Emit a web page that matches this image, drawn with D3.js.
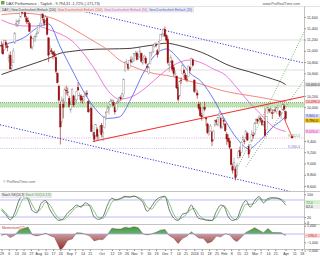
<!DOCTYPE html>
<html><head><meta charset="utf-8">
<script src="https://cdn.jsdelivr.net/npm/d3@7"></script>
<style>
body{margin:0;background:#fff;}
svg{display:block;font-family:"Liberation Sans",Arial,sans-serif;}
</style></head><body>
<div id="chart"></div>
<script>
// DAX daily candles, 29 Jun 2015 .. 1 Apr 2016 (index = trading day)
const opens = [11100,11090,
 11020,11150,11080,10850,10920,10700,10800,11140,11480,11470,11530,11600,11720,11700,11730,11580,11540,11480,11250,11070,11200,11250,11300,
 11330,11430,11480,11640,11560,11530,11580,11230,10990,11000,10980,10950,10880,10600,10370,10050,9750,10050,10100,10300,10270,
 10150,9950,10100,10200,10100,10130,10350,10200,10200,10150,10120,10220,10250,10100,9950,9980,9600,9550,9500,9600,9440,9560,
 9680,9480,9640,9800,9920,9950,10050,10100,10080,10000,9940,10100,10120,10170,10160,10220,10650,10800,10760,10700,10840,10820,
 10830,10940,10960,10880,10900,10950,10780,10870,10870,10720,10600,10770,10950,10980,11080,11100,11000,10980,11180,11280,11300,
 11380,11270,11200,10750,10800,10820,10700,10580,10550,10350,10200,10480,10600,10650,10570,10500,10540,10700,10700,10840,
 10480,10300,10250,10050,10000,9850,9850,10000,9800,9700,9520,9580,9560,9430,9680,9760,9680,9850,9800,9650,
 9760,9700,9520,9450,9400,9250,8950,8950,8900,8800,9100,9230,9200,9420,9400,9450,9530,9300,9250,9400,9500,
 9520,9720,9780,9770,9800,9760,9700,9750,9600,9900,9960,9950,9900,9910,9950,9920,9990,9930,9880,9950,10020,
 9920];
const highs = [11170,11140,
 11200,11190,11120,10950,10990,10860,11050,11330,11560,11540,11580,11730,11750,11802,11760,11620,11600,11520,11290,11230,11260,11300,11360,
 11460,11500,11670,11670,11590,11630,11600,11240,11090,11050,11000,11000,10900,10620,10400,10100,10190,10150,10350,10380,10350,
 10200,10100,10340,10220,10160,10290,10440,10260,10230,10200,10210,10280,10300,10120,10100,10000,9690,9560,9700,9640,9520,9680,
 9720,9600,9840,9930,10030,10020,10150,10150,10130,10040,10090,10140,10190,10210,10250,10510,10820,10850,10780,10840,10900,10880,
 10960,11000,10990,10950,11060,10970,10860,10930,10900,10770,10730,10980,10990,11090,11140,11150,11030,11180,11300,11320,11400,
 11430,11300,11250,10800,10930,10840,10750,10650,10560,10400,10470,10530,10760,10680,10610,10560,10740,10730,10880,10860,
 10490,10400,10300,10100,10080,9900,10000,10100,9830,9720,9590,9700,9580,9600,9780,9790,9830,9930,9830,9830,
 9800,9720,9560,9520,9450,9270,9000,9100,8950,9010,9240,9300,9400,9500,9430,9600,9560,9330,9340,9590,9560,
 9730,9800,9800,9860,9840,9790,9760,9990,9840,10000,9980,10000,9960,9970,10000,10000,10030,9950,9920,10070,10050,
 9940];
const lows = [10950,10930,
 11010,11050,10990,10790,10676,10630,10780,11120,11420,11420,11470,11580,11650,11680,11580,11480,11470,11330,11030,11020,11150,11160,11240,
 11300,11400,11460,11540,11440,11500,11270,10800,10940,10940,10850,10880,10600,10420,10100,9338,9700,9800,10050,10220,10200,
 9990,9900,10080,10000,10050,10090,10290,10130,10080,10060,10080,10190,10180,9900,9930,9560,9480,9380,9470,9420,9400,9540,
 9470,9390,9620,9770,9900,9870,10030,10070,10010,9870,9920,10060,10080,10110,10130,10180,10620,10760,10650,10680,10780,10780,
 10800,10900,10830,10840,10870,10790,10750,10840,10760,10670,10580,10760,10900,10960,11060,11060,10880,10970,11170,11250,11250,
 11250,11160,10760,10620,10780,10630,10550,10520,10320,10100,10180,10410,10580,10520,10470,10440,10530,10610,10690,10730,
 10250,10250,10150,9940,9830,9760,9830,9930,9660,9520,9490,9560,9310,9390,9650,9680,9660,9810,9610,9620,
 9680,9560,9330,9360,9250,8960,8820,8900,8699,8780,9080,9100,9190,9400,9340,9440,9400,9100,9200,9380,9440,
 9500,9700,9700,9740,9730,9670,9660,9480,9590,9880,9900,9880,9790,9880,9910,9880,9960,9820,9790,9940,9940,
 9760];
const closes = [11083,10945,
 11181,11099,11058,10890,10676,10747,10996,11316,11484,11516,11539,11717,11673,11735,11604,11520,11512,11347,11057,11211,11212,11257,11308,
 11444,11456,11637,11585,11490,11604,11293,10924,11015,10985,10940,10915,10636,10432,10124,9648,10128,9998,10315,10298,10259,
 10015,10048,10318,10038,10108,10271,10303,10210,10123,10131,10188,10227,10229,9916,10066,9571,9612,9428,9688,9483,9450,9660,
 9509,9553,9814,9902,9970,9993,10096,10119,10033,9916,10064,10104,10165,10147,10238,10491,10795,10801,10692,10831,10801,10850,
 10950,10951,10845,10887,10988,10815,10832,10907,10782,10708,10713,10971,10959,11085,11119,11092,10934,11169,11284,11293,11382,
 11261,11190,10789,10752,10886,10673,10592,10598,10340,10139,10450,10470,10738,10608,10498,10489,10728,10653,10860,10743,
 10283,10310,10214,9979,9849,9825,9985,9960,9794,9545,9521,9664,9391,9574,9764,9736,9822,9880,9639,9798,
 9758,9581,9434,9393,9286,8979,8879,9017,8752,8967,9206,9135,9377,9463,9388,9574,9416,9167,9331,9513,9495,
 9717,9776,9751,9824,9778,9692,9723,9498,9831,9990,9933,9983,9892,9950,9948,9990,10022,9851,9887,10046,9965,
 9794];

const maIdx = [0,8,16,24,32,40,48,56,64,72,80,88,96,104,112,120,128,136,144,152,160,168,176,184,192,193];
const ma20  = [11103,11156,11245,11405,11476,11068,10659,10269,9960,9800,9825,10150,10588,10915,11032,10865,10606,10446,10145,9763,9442,9262,9417,9640,9810,9840];
const ma50  = [11547,11467,11440,11440,11378,11298,11174,10943,10642,10304,10145,10180,10304,10482,10659,10784,10837,10784,10677,10571,10340,10091,9878,9665,9576,9570];
const ma100 = [11640,11660,11665,11650,11600,11520,11399,11275,11149,11021,10839,10732,10654,10595,10563,10521,10460,10405,10338,10281,10240,10207,10173,10132,10100,10098];
const ma200 = [10579,10652,10721,10791,10865,10957,10991,11016,11028,11032,11036,11044,11076,11107,11135,11098,11041,10972,10876,10768,10689,10631,10566,10501,10418,10400];

// drawn objects (index, value)
const channelTop = [[52,11722],[205.5,10783]];
const channelBottom = [[-1,9687],[196,8504]];
const trendRed = [[62,9391],[205.5,10190]];
const fanSteep = [[159.3,8870],[209.6,11548]];
const fanFlat = [[166,8939],[209.6,10644]];
const projection = [[192,9800],[197.4,9470]];
const zoneBand = [10000,10080];
const levelsGray = [11192,10659,10375];
const levelsDot = [9452,9266];

// stochastic (14,3,3)
const stochIdx = [0,3,6,9,12,15,18,21,24,27,30,33,36,39,42,45,48,51,54,57,60,63,66,69,72,75,78,81,84,87,90,93,96,99,102,105,108,111,114,117,120,123,126,129,131,134,137,140,143,146,149,151,154,157,160,163,166,169,172,175,178,181,184,187,190,193];
const stochK = [45,28,10,35,80,95,82,42,35,68,78,45,22,8,14,35,48,62,55,70,58,20,12,22,62,86,80,86,93,90,94,86,72,40,58,80,90,93,45,16,8,30,35,62,42,15,12,8,8,40,62,58,22,8,15,55,78,55,78,92,70,85,88,86,80,62];
const stochD = [50,35,18,22,55,85,88,62,40,50,72,62,35,15,10,22,40,55,58,62,62,40,18,16,40,72,82,84,90,91,92,89,80,55,48,68,84,91,68,30,12,18,32,48,50,28,14,10,8,22,50,60,40,15,10,35,65,65,68,85,80,80,86,87,83,72];

// momentum (12)
const momIdx = [0,3,6,9,12,15,18,21,24,27,30,33,36,39,40,42,45,48,51,54,57,60,63,66,69,72,75,78,81,84,87,90,93,96,99,102,105,108,111,114,117,120,123,126,129,131,134,137,140,143,146,149,152,155,158,160,163,166,169,172,175,178,181,184,187,190,193];
const momVal = [-170,0,-420,-150,456,636,836,-105,-231,-98,92,-196,-393,-1513,-1937,-1606,-756,-597,147,125,-32,-252,-843,-673,-674,-96,691,614,594,825,712,886,740,37,-123,9,205,452,553,-207,-500,-1145,-523,-263,268,-57,-491,-513,-1108,-892,-243,-346,36,-105,-719,-913,-381,181,452,750,447,149,659,175,166,164,-196];

// x axis labels
const xTickIdx = [0,5,10,15,20,25,30,35,40,46,50,55,60,68,75,80,85,90,95,100,105,111,115,120,125,131,136,141,146,151,156,161,166,172,176,181,186,193,199,204];
const xTickLab = ["29","6","13","20","27","Aug","10","17","24","Sep","7","14","21","Oct","12","19","26","Nov","9","16","23","Dec","7","14","21","2016","11","18","25","Feb","8","15","22","Mar","7","14","21","Apr","11","18"];
const yTicks = [8600,8800,9000,9200,9400,9600,9800,10000,10200,10400,10600,10800,11000,11200,11400,11600];
const stTicks = [0,20,50,80,100];
const moTicks = [1000,0,-1000,-2000];

const W = 320, H = 256, PR = 304;
const main = {top: 6.5, bottom: 191.5};
const st = {top: 192, bottom: 224.5};
const mo = {top: 225, bottom: 249.5};

const svg = d3.select("#chart").append("svg").attr("width", W).attr("height", H);

const x = d3.scaleLinear().domain([-1, 205.5]).range([0, PR]);
const y = d3.scaleLinear().domain([8600, 11600]).range([186, 17]);
const yS = d3.scaleLinear().domain([0, 100]).range([222.7, 194.3]);
const yM = d3.scaleLinear().domain([-1000, 1000]).range([242.3, 225.7]);

const defs = svg.append("defs");
defs.append("clipPath").attr("id", "cmain").append("rect")
  .attr("x", 0).attr("y", main.top).attr("width", PR).attr("height", main.bottom - main.top);
defs.append("clipPath").attr("id", "cmo").append("rect")
  .attr("x", 0).attr("y", mo.top).attr("width", PR).attr("height", mo.bottom - mo.top);
const gUp = defs.append("linearGradient").attr("id", "gup").attr("x1", 0).attr("x2", 0).attr("y1", 0).attr("y2", 1);
gUp.append("stop").attr("offset", 0).attr("stop-color", "#3f9a3f");
gUp.append("stop").attr("offset", 1).attr("stop-color", "#c9e6c9");
const gDn = defs.append("linearGradient").attr("id", "gdn").attr("x1", 0).attr("x2", 0).attr("y1", 0).attr("y2", 1);
gDn.append("stop").attr("offset", 0).attr("stop-color", "#e8caca");
gDn.append("stop").attr("offset", 1).attr("stop-color", "#8e2a2a");

// ---------- main panel ----------
const gm = svg.append("g").attr("clip-path", "url(#cmain)");

gm.append("rect").attr("x", 0).attr("width", PR)
  .attr("y", y(zoneBand[1])).attr("height", y(zoneBand[0]) - y(zoneBand[1]))
  .attr("fill", "#bfe6b3");
gm.append("line").attr("x1", 0).attr("x2", PR).attr("y1", y(zoneBand[1])).attr("y2", y(zoneBand[1]))
  .attr("stroke", "#555").attr("stroke-width", 0.6).attr("stroke-dasharray", "1,1");
gm.append("line").attr("x1", 0).attr("x2", PR).attr("y1", y(zoneBand[0])).attr("y2", y(zoneBand[0]))
  .attr("stroke", "#7cc46a").attr("stroke-width", 0.6).attr("stroke-dasharray", "1,1");

gm.selectAll(".lvl").data(levelsGray).join("line")
  .attr("x1", 0).attr("x2", PR).attr("y1", d => y(d)).attr("y2", d => y(d))
  .attr("stroke", "#d0d0d0").attr("stroke-width", 0.7);
gm.selectAll(".lvd").data(levelsDot).join("line")
  .attr("x1", 0).attr("x2", PR).attr("y1", d => y(d)).attr("y2", d => y(d))
  .attr("stroke", (d, i) => i == 0 ? "#d48ad4" : "#b7a6e6").attr("stroke-width", 0.7).attr("stroke-dasharray", "1,1.2");

const seg = d3.line().x(d => x(d[0])).y(d => y(d[1]));
gm.append("path").attr("d", seg(channelTop)).attr("stroke", "#3a3ad6").attr("stroke-width", 1).attr("stroke-dasharray", "1.2,1.6").attr("fill", "none");
gm.append("path").attr("d", seg(channelBottom)).attr("stroke", "#3a3ad6").attr("stroke-width", 1).attr("stroke-dasharray", "1.2,1.6").attr("fill", "none");
gm.append("path").attr("d", seg(fanSteep)).attr("stroke", "#59a84f").attr("stroke-width", 0.8).attr("stroke-dasharray", "1,1.4").attr("fill", "none");
gm.append("path").attr("d", seg(fanFlat)).attr("stroke", "#59a84f").attr("stroke-width", 0.8).attr("stroke-dasharray", "1,1.4").attr("fill", "none");

const maLine = vals => d3.line().curve(d3.curveMonotoneX)
  .x((d, i) => x(maIdx[i])).y(d => y(d))(vals);
gm.append("path").attr("d", maLine(ma200)).attr("stroke", "#4a3a3a").attr("stroke-width", 1).attr("fill", "none");
gm.append("path").attr("d", maLine(ma100)).attr("stroke", "#f07a70").attr("stroke-width", 0.9).attr("fill", "none");
gm.append("path").attr("d", maLine(ma50)).attr("stroke", "#ee6ad2").attr("stroke-width", 0.9).attr("fill", "none");
gm.append("path").attr("d", maLine(ma20)).attr("stroke", "#5a6cf0").attr("stroke-width", 0.9).attr("fill", "none");

gm.append("path").attr("d", seg(trendRed)).attr("stroke", "#f03030").attr("stroke-width", 1.1).attr("fill", "none");

// candles
const cand = gm.append("g");
closes.forEach((c, i) => {
  const o = opens[i], up = c >= o;
  const col = up ? "#8c8c8c" : "#9b1010";
  cand.append("line").attr("x1", x(i)).attr("x2", x(i))
    .attr("y1", y(highs[i])).attr("y2", y(lows[i]))
    .attr("stroke", col).attr("stroke-width", 0.6);
  const top = y(Math.max(o, c)), bot = y(Math.min(o, c));
  cand.append("rect").attr("x", x(i) - 0.8).attr("width", 1.6)
    .attr("y", top).attr("height", Math.max(0.6, bot - top))
    .attr("fill", up ? "#fff" : "#9b1010").attr("stroke", col).attr("stroke-width", 0.4);
});

gm.append("path").attr("d", seg(projection)).attr("stroke", "#f02020").attr("stroke-width", 0.8).attr("fill", "none");
gm.append("rect").attr("x", x(projection[1][0]) - 1.2).attr("y", y(projection[1][1]) - 1.2)
  .attr("width", 2.4).attr("height", 2.4).attr("fill", "#e00000");

const fmt = d3.format(",.1f");
gm.append("text").attr("x", 300).attr("y", y(levelsDot[0]) - 1.2).attr("text-anchor", "end")
  .attr("font-size", 3.6).attr("fill", "#6a9a5a").text(fmt(levelsDot[0]));
gm.append("text").attr("x", 300).attr("y", y(levelsDot[1]) - 0.8).attr("text-anchor", "end")
  .attr("font-size", 3.6).attr("fill", "#8070c0").text(fmt(levelsDot[1]));

svg.append("text").attr("x", 3).attr("y", 183).attr("font-size", 3.6).attr("fill", "#666").text("© ProRealTime.com");

// lay texts out one after another so none overlap
function row(g, items, x0, yb, size, gap) {
  let cx = x0;
  items.forEach(d => {
    const t = g.append("text").attr("x", cx).attr("y", yb).attr("font-size", size).attr("fill", d.c).text(d.t);
    cx += t.node().getComputedTextLength() + gap;
  });
  return cx;
}

// ---------- stochastic ----------
const gs = svg.append("g");
[80, 20].forEach(v => gs.append("line").attr("x1", 0).attr("x2", PR).attr("y1", yS(v)).attr("y2", yS(v))
  .attr("stroke", "#a9a9ee").attr("stroke-width", 0.8));
const stLine = vals => d3.line().curve(d3.curveMonotoneX)
  .x((d, i) => x(stochIdx[i])).y(d => yS(d))(vals);
gs.append("path").attr("d", stLine(stochD)).attr("stroke", "#62b85a").attr("stroke-width", 0.8).attr("fill", "none");
gs.append("path").attr("d", stLine(stochK)).attr("stroke", "#555").attr("stroke-width", 0.8).attr("fill", "none");
const stBox = gs.append("rect").attr("x", 1).attr("y", 193).attr("height", 4.4).attr("fill", "#f2f2f2").attr("stroke", "#cfcfcf").attr("stroke-width", 0.4);
const stEnd = row(gs, [{t: "Stoch %K(14,3)", c: "#333"}, {t: "Stoch %D(14,3,3)", c: "#3a9a3a"}], 2, 196.3, 3.2, 1.2);
stBox.attr("width", stEnd - 1);

// ---------- momentum ----------
const gmo = svg.append("g").attr("clip-path", "url(#cmo)");
const area = d3.area().curve(d3.curveLinear)
  .x((d, i) => x(momIdx[i])).y0(yM(0)).y1(d => yM(d));
defs.append("clipPath").attr("id", "cpos").append("rect").attr("x", 0).attr("y", mo.top).attr("width", PR).attr("height", yM(0) - mo.top);
defs.append("clipPath").attr("id", "cneg").append("rect").attr("x", 0).attr("y", yM(0)).attr("width", PR).attr("height", mo.bottom - yM(0));
gmo.append("path").attr("d", area(momVal)).attr("fill", "url(#gup)").attr("clip-path", "url(#cpos)");
gmo.append("path").attr("d", area(momVal)).attr("fill", "url(#gdn)").attr("clip-path", "url(#cneg)");
gmo.append("line").attr("x1", 0).attr("x2", PR).attr("y1", yM(0)).attr("y2", yM(0)).attr("stroke", "#a9a9ee").attr("stroke-width", 0.8);
gmo.append("path").attr("d", d3.line().x((d, i) => x(momIdx[i])).y(d => yM(d))(momVal))
  .attr("stroke", "#6b3a3a").attr("stroke-width", 0.4).attr("fill", "none");
svg.append("text").attr("x", 2).attr("y", 228.5).attr("font-size", 3.4).attr("fill", "#d03030").text("Momentum(12)");

// ---------- frames ----------
[main.bottom, st.bottom, mo.bottom].forEach(v => svg.append("line").attr("x1", 0).attr("x2", W)
  .attr("y1", v).attr("y2", v).attr("stroke", "#9a9a9a").attr("stroke-width", 0.6));
svg.append("line").attr("x1", 0).attr("x2", W).attr("y1", main.top).attr("y2", main.top).attr("stroke", "#c8c8c8").attr("stroke-width", 0.5);
svg.append("line").attr("x1", PR + 0.5).attr("x2", PR + 0.5).attr("y1", main.top).attr("y2", mo.bottom)
  .attr("stroke", "#9a9a9a").attr("stroke-width", 0.6);

// value tags on the right axis (spread apart so none overlap)
function spread(list) {
  list.sort((a, b) => a.v - b.v);
  for (let k = 1; k < list.length; k++) {
    if (list[k].v - list[k - 1].v < 4.4) list[k].v = list[k - 1].v + 4.4;
  }
  return list;
}
const mainTags = spread([
  {v: y(ma200[ma200.length - 1]), t: fmt(ma200[ma200.length - 1]), bg: "#dcdcdc", fg: "#333"},
  {v: y(ma100[ma100.length - 1]), t: fmt(ma100[ma100.length - 1]), bg: "#f7d0d0", fg: "#d02020"},
  {v: y(ma20[ma20.length - 1]), t: fmt(ma20[ma20.length - 1]), bg: "#d7dcfa", fg: "#3040d0"},
  {v: y(closes[closes.length - 1]), t: fmt(closes[closes.length - 1]), bg: "#f2c200", fg: "#222"},
  {v: y(ma50[ma50.length - 1]), t: fmt(ma50[ma50.length - 1]), bg: "#f8d2f0", fg: "#c030b0"}
]);
const stTags = spread([
  {v: yS(stochD[stochD.length - 1]), t: d3.format(".1f")(stochD[stochD.length - 1]), bg: "#d6f0d0", fg: "#3a9a3a"},
  {v: yS(stochK[stochK.length - 1]), t: d3.format(".1f")(stochK[stochK.length - 1]), bg: "#eeeeee", fg: "#333"}
]);
const moTags = [{v: yM(momVal[momVal.length - 1]), t: fmt(momVal[momVal.length - 1]), bg: "#f7d0d0", fg: "#d02020"}];
const allTags = mainTags.concat(stTags, moTags);
const clear = py => allTags.every(t => Math.abs(t.v - py) > 4.4);

// right axes, skipping tick labels hidden behind a tag
function rightAxis(scale, values, format) {
  svg.append("g").attr("transform", `translate(${PR + 0.5},0)`)
    .call(d3.axisRight(scale).tickValues(values.filter(v => clear(scale(v)))).tickSize(1.5).tickFormat(format))
    .call(g => g.select(".domain").remove())
    .call(g => g.selectAll("text").attr("font-size", 3.6).attr("fill", "#333").attr("x", 2.5))
    .call(g => g.selectAll("line").attr("stroke", "#888"));
}
rightAxis(y, yTicks, d3.format(","));
rightAxis(yS, stTicks, d3.format("d"));
rightAxis(yM, moTicks, d3.format(","));

const tg = svg.append("g");
allTags.forEach(d => {
  tg.append("rect").attr("x", PR + 1).attr("y", d.v - 2.1).attr("width", 15).attr("height", 4.2).attr("fill", d.bg);
  tg.append("text").attr("x", PR + 2).attr("y", d.v + 1.3).attr("font-size", 3.5).attr("fill", d.fg).text(d.t);
});

// x axis
svg.append("g").attr("transform", `translate(0,${mo.bottom})`)
  .call(d3.axisBottom(x).tickValues(xTickIdx).tickSize(1.5).tickFormat((d, i) => xTickLab[i]))
  .call(g => g.select(".domain").remove())
  .call(g => g.selectAll("text").attr("font-size", 3.6).attr("fill", "#333").attr("y", 2.5))
  .call(g => g.selectAll("line").attr("stroke", "#888"));

// header
svg.append("text").attr("x", 6).attr("y", 4.5).attr("font-size", 3.8).attr("fill", "#333")
  .text("DAX Performance - Täglich - 9.794,31  -1,72%  (-171,73)");
svg.append("text").attr("x", 300).attr("y", 4.5).attr("text-anchor", "end").attr("font-size", 3.6).attr("fill", "#555")
  .text("www.ProRealTime.com");
svg.append("rect").attr("x", 1).attr("y", 1).attr("width", 3.5).attr("height", 3.5).attr("fill", "#6aa84f");
const leg = svg.append("g");
const legBox = leg.append("rect").attr("x", 0.5).attr("y", 7).attr("height", 5).attr("fill", "#f1f1f1").attr("stroke", "#c8c8c8").attr("stroke-width", 0.4);
const legEnd = row(leg, [
  {t: "DAX | Gew Durchschnitt Einfach (200)", c: "#333"},
  {t: "Gew Durchschnitt Einfach (100)", c: "#f04040"},
  {t: "Gew Durchschnitt Einfach (50)", c: "#e040c0"},
  {t: "Gew Durchschnitt Einfach (20)", c: "#3a4ae0"}
], 2, 10.8, 3.2, 1.5);
legBox.attr("width", legEnd - 0.5);
</script></body></html>
